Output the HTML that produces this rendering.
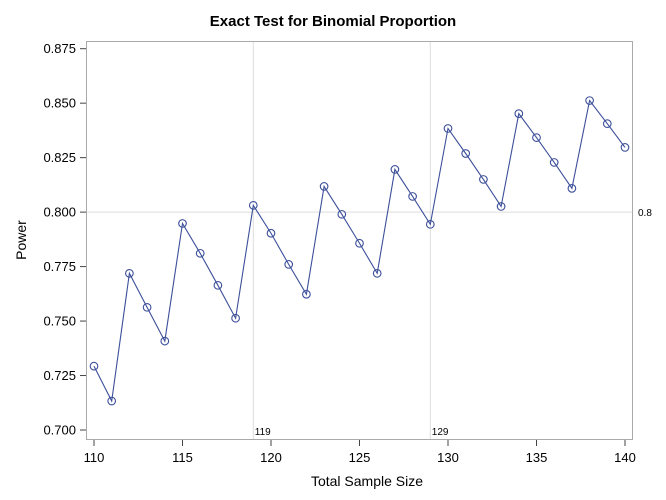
<!DOCTYPE html>
<html><head><meta charset="utf-8"><style>
body{margin:0;background:#fff;font-family:"Liberation Sans",sans-serif}
svg{display:block}
</style></head><body>
<svg id="chart" width="666" height="500" xmlns="http://www.w3.org/2000/svg">
<text x="333" y="26" text-anchor="middle" font-size="15" font-weight="bold">Exact Test for Binomial Proportion</text>
<rect x="86.5" y="41.5" width="546" height="398" fill="none" stroke="#aaa"/>
<g id="grid"></g><g id="axes"></g><g id="series"></g>
<text x="367" y="486" text-anchor="middle" font-size="14">Total Sample Size</text>
<text transform="translate(26,240) rotate(-90)" text-anchor="middle" font-size="14">Power</text>
</svg>
<script>
const sizes=[110,111,112,113,114,115,116,117,118,119,120,121,122,123,124,125,126,127,128,129,130,131,132,133,134,135,136,137,138,139,140];
const power=[0.7293,0.7133,0.7719,0.7563,0.7408,0.7948,0.7811,0.7664,0.7513,0.8031,0.7903,0.7760,0.7623,0.8118,0.7990,0.7857,0.7719,0.8196,0.8072,0.7944,0.8384,0.8269,0.8150,0.8026,0.8452,0.8342,0.8228,0.8109,0.8512,0.8406,0.8297];
const xTicks=[110,115,120,125,130,135,140];
const yTicks=[0.700,0.725,0.750,0.775,0.800,0.825,0.850,0.875];
const refY=[0.8];
const refX=[119,129];
const NS="http://www.w3.org/2000/svg";
const X=v=>94+(v-110)*(531/30);
const Y=v=>48.7+(0.875-v)*(381.3/0.175);
function mk(t,a,p){const e=document.createElementNS(NS,t);for(const k in a)e.setAttribute(k,a[k]);p.appendChild(e);return e;}
const grid=document.getElementById('grid'),axes=document.getElementById('axes'),ser=document.getElementById('series');
refY.forEach(v=>{const l=mk('line',{x1:87,x2:632,y1:Y(v),y2:Y(v),stroke:'#ddd'},grid);


const t=mk('text',{x:638,y:Y(v)+4,'font-size':10},grid);t.textContent=String(v);

});
refX.forEach(v=>{const l=mk('line',{x1:X(v),x2:X(v),y1:42,y2:439,stroke:'#ddd'},grid);


const t=mk('text',{x:X(v)+1.5,y:435,'font-size':10},grid);t.textContent=String(v);

});
xTicks.forEach(v=>{const l=mk('line',{x1:X(v),x2:X(v),y1:440,y2:446,stroke:'#444'},axes);


const t=mk('text',{x:X(v),y:462,'font-size':13,'text-anchor':'middle'},axes);t.textContent=v;

});
yTicks.forEach(v=>{const l=mk('line',{x1:80,x2:86,y1:Y(v),y2:Y(v),stroke:'#444'},axes);


const t=mk('text',{x:76,y:Y(v)+4.5,'font-size':13,'text-anchor':'end'},axes);t.textContent=v.toFixed(3);

});
const pl=mk('polyline',{points:sizes.map((s,i)=>X(s)+','+Y(power[i])).join(' '),fill:'none',stroke:'#3c4f9a','stroke-width':1.1},ser);


sizes.forEach((s,i)=>{const c=mk('circle',{cx:X(s),cy:Y(power[i]),r:3.8,fill:'none',stroke:'#3c4f9a','stroke-width':1.1},ser);

});
</script>
</body></html>
